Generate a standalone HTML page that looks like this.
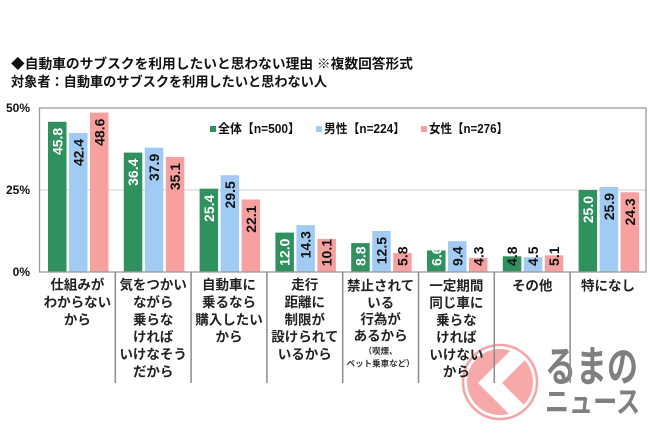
<!DOCTYPE html>
<html><head><meta charset="utf-8"><style>
html,body{margin:0;padding:0;background:#fff;}
svg{display:block;}
text{font-family:"Liberation Sans","Noto Sans CJK JP",sans-serif;}
.t{font-size:13.5px;font-weight:bold;fill:#111;}
.c{font-size:13.5px;font-weight:bold;fill:#222;text-anchor:middle;}
.s{font-size:8.5px;font-weight:bold;fill:#333;text-anchor:middle;}
.v{font-size:14px;font-weight:bold;text-anchor:end;}
.y{font-size:12px;font-weight:bold;fill:#111;text-anchor:end;}
.l{font-size:12.5px;font-weight:bold;fill:#111;}
</style></head><body>
<svg width="650" height="433" viewBox="0 0 650 433" xmlns="http://www.w3.org/2000/svg">
<rect width="650" height="433" fill="#fff"/>
<!-- titles -->
<text class="t" x="11" y="64" dominant-baseline="central" textLength="402" lengthAdjust="spacingAndGlyphs">◆自動車のサブスクを利用したいと思わない理由 ※複数回答形式</text>
<text class="t" x="11" y="82" dominant-baseline="central" textLength="316" lengthAdjust="spacingAndGlyphs">対象者：自動車のサブスクを利用したいと思わない人</text>

<!-- y labels -->
<text class="y" x="30" y="108" dominant-baseline="central">50%</text>
<text class="y" x="30" y="190" dominant-baseline="central">25%</text>
<text class="y" x="30" y="272" dominant-baseline="central">0%</text>

<!-- grid -->
<line x1="39.5" y1="190" x2="646" y2="190" stroke="#d9d9d9" stroke-width="1.2"/>

<!-- bars -->
<g>
<rect x="48" y="121.8" width="18.5" height="150.2" fill="#2f915e"/>
<rect x="69" y="132.9" width="18.5" height="139.1" fill="#a2cbf4"/>
<rect x="90" y="112.6" width="18.5" height="159.4" fill="#f6a0a0"/>

<rect x="123.8" y="152.6" width="18.5" height="119.4" fill="#2f915e"/>
<rect x="144.8" y="147.7" width="18.5" height="124.3" fill="#a2cbf4"/>
<rect x="165.8" y="156.9" width="18.5" height="115.1" fill="#f6a0a0"/>

<rect x="199.6" y="188.7" width="18.5" height="83.3" fill="#2f915e"/>
<rect x="220.6" y="175.2" width="18.5" height="96.8" fill="#a2cbf4"/>
<rect x="241.6" y="199.5" width="18.5" height="72.5" fill="#f6a0a0"/>

<rect x="275.4" y="232.6" width="18.5" height="39.4" fill="#2f915e"/>
<rect x="296.4" y="225.1" width="18.5" height="46.9" fill="#a2cbf4"/>
<rect x="317.4" y="238.9" width="18.5" height="33.1" fill="#f6a0a0"/>

<rect x="351.2" y="243.1" width="18.5" height="28.9" fill="#2f915e"/>
<rect x="372.2" y="231" width="18.5" height="41" fill="#a2cbf4"/>
<rect x="393.2" y="253" width="18.5" height="19" fill="#f6a0a0"/>

<rect x="427" y="250.4" width="18.5" height="21.6" fill="#2f915e"/>
<rect x="448" y="241.2" width="18.5" height="30.8" fill="#a2cbf4"/>
<rect x="469" y="257.9" width="18.5" height="14.1" fill="#f6a0a0"/>

<rect x="502.8" y="256.3" width="18.5" height="15.7" fill="#2f915e"/>
<rect x="523.8" y="257.2" width="18.5" height="14.8" fill="#a2cbf4"/>
<rect x="544.8" y="255.3" width="18.5" height="16.7" fill="#f6a0a0"/>

<rect x="578.6" y="190" width="18.5" height="82" fill="#2f915e"/>
<rect x="599.6" y="187" width="18.5" height="85" fill="#a2cbf4"/>
<rect x="620.6" y="192.3" width="18.5" height="79.7" fill="#f6a0a0"/>
</g>

<!-- value labels -->
<g dominant-baseline="central">
<text class="v" fill="#fff" transform="translate(57.25,127.8) rotate(-90)">45.8</text>
<text class="v" fill="#111" transform="translate(78.25,138.9) rotate(-90)">42.4</text>
<text class="v" fill="#111" transform="translate(99.25,118.6) rotate(-90)">48.6</text>

<text class="v" fill="#fff" transform="translate(133.05,158.6) rotate(-90)">36.4</text>
<text class="v" fill="#111" transform="translate(154.05,153.7) rotate(-90)">37.9</text>
<text class="v" fill="#111" transform="translate(175.05,162.9) rotate(-90)">35.1</text>

<text class="v" fill="#fff" transform="translate(208.85,194.7) rotate(-90)">25.4</text>
<text class="v" fill="#111" transform="translate(229.85,181.2) rotate(-90)">29.5</text>
<text class="v" fill="#111" transform="translate(250.85,205.5) rotate(-90)">22.1</text>

<text class="v" fill="#fff" transform="translate(284.65,238.6) rotate(-90)">12.0</text>
<text class="v" fill="#111" transform="translate(305.65,231.1) rotate(-90)">14.3</text>
<text class="v" fill="#111" transform="translate(326.65,239) rotate(-90)">10.1</text>

<text class="v" fill="#fff" transform="translate(360.45,246.5) rotate(-90)">8.8</text>
<text class="v" fill="#111" transform="translate(381.45,237) rotate(-90)">12.5</text>
<text class="v" fill="#111" transform="translate(402.45,246.5) rotate(-90)">5.8</text>

<text class="v" fill="#fff" transform="translate(436.25,246.5) rotate(-90)">6.6</text>
<text class="v" fill="#111" transform="translate(457.25,246.5) rotate(-90)">9.4</text>
<text class="v" fill="#111" transform="translate(478.25,246.5) rotate(-90)">4.3</text>

<text class="v" fill="#111" transform="translate(512.05,246.5) rotate(-90)">4.8</text>
<text class="v" fill="#111" transform="translate(533.05,246.5) rotate(-90)">4.5</text>
<text class="v" fill="#111" transform="translate(554.05,246.5) rotate(-90)">5.1</text>

<text class="v" fill="#fff" transform="translate(587.85,196) rotate(-90)">25.0</text>
<text class="v" fill="#111" transform="translate(608.85,193) rotate(-90)">25.9</text>
<text class="v" fill="#111" transform="translate(629.85,198.3) rotate(-90)">24.3</text>
</g>

<!-- plot border -->
<rect x="39.5" y="108" width="606.5" height="164" fill="none" stroke="#9a9a9a" stroke-width="1.3"/>

<!-- legend -->
<rect x="210" y="126" width="6" height="6" fill="#2f915e"/>
<text class="l" x="218" y="129" dominant-baseline="central" textLength="82" lengthAdjust="spacingAndGlyphs">全体【n=500】</text>
<rect x="316" y="126" width="6" height="6" fill="#a2cbf4"/>
<text class="l" x="324" y="129" dominant-baseline="central" textLength="81" lengthAdjust="spacingAndGlyphs">男性【n=224】</text>
<rect x="421" y="126" width="6" height="6" fill="#f6a0a0"/>
<text class="l" x="429" y="129" dominant-baseline="central" textLength="79" lengthAdjust="spacingAndGlyphs">女性【n=276】</text>

<!-- logo (watermark) -->
<defs><clipPath id="cc"><circle cx="500" cy="382" r="33"/></clipPath></defs>
<g opacity="0.9">
<circle cx="500" cy="382" r="37" fill="none" stroke="#f59d9d" stroke-width="2.6"/>
<circle cx="500" cy="382" r="33" fill="#f79f9f"/>
<polyline points="530,343 490,383 530,423" fill="none" stroke="#fff" stroke-width="17" stroke-linejoin="miter" clip-path="url(#cc)"/>
</g>
<text x="545" y="367" dominant-baseline="central" font-size="42" font-weight="bold" fill="#7f7f7f" textLength="93" lengthAdjust="spacingAndGlyphs">るまの</text>
<text x="545" y="403" dominant-baseline="central" font-size="30" font-weight="bold" fill="#7f7f7f" textLength="95" lengthAdjust="spacingAndGlyphs">ニュース</text>

<!-- separators -->
<g stroke="#8c8c8c" stroke-width="1.5">
<line x1="115.3" y1="272" x2="115.3" y2="383"/>
<line x1="191.1" y1="272" x2="191.1" y2="383"/>
<line x1="266.9" y1="272" x2="266.9" y2="383"/>
<line x1="342.7" y1="272" x2="342.7" y2="383"/>
<line x1="418.5" y1="272" x2="418.5" y2="383"/>
<line x1="494.3" y1="272" x2="494.3" y2="383"/>
<line x1="570.1" y1="272" x2="570.1" y2="383"/>
</g>

<!-- category labels -->
<g dominant-baseline="central">
<text class="c" x="77.4" y="285">仕組みが</text>
<text class="c" x="77.4" y="302.5">わからない</text>
<text class="c" x="77.4" y="320">から</text>

<text class="c" x="153.2" y="285">気をつかい</text>
<text class="c" x="153.2" y="302.4">ながら</text>
<text class="c" x="153.2" y="319.8">乗らな</text>
<text class="c" x="153.2" y="337.2">ければ</text>
<text class="c" x="153.2" y="354.6">いけなそう</text>
<text class="c" x="153.2" y="372">だから</text>

<text class="c" x="229" y="285">自動車に</text>
<text class="c" x="229" y="302.4">乗るなら</text>
<text class="c" x="229" y="319.8">購入したい</text>
<text class="c" x="229" y="337.2">から</text>

<text class="c" x="304.8" y="285">走行</text>
<text class="c" x="304.8" y="302.4">距離に</text>
<text class="c" x="304.8" y="319.8">制限が</text>
<text class="c" x="304.8" y="337.2">設けられて</text>
<text class="c" x="304.8" y="354.6">いるから</text>

<text class="c" x="380.6" y="286">禁止されて</text>
<text class="c" x="380.6" y="303">いる</text>
<text class="c" x="380.6" y="319.5">行為が</text>
<text class="c" x="380.6" y="336">あるから</text>
<text class="s" x="380.6" y="351">（喫煙、</text>
<text class="s" x="380.6" y="363.5">ペット乗車など）</text>

<text class="c" x="456.4" y="286">一定期間</text>
<text class="c" x="456.4" y="303.2">同じ車に</text>
<text class="c" x="456.4" y="320.4">乗らな</text>
<text class="c" x="456.4" y="337.6">ければ</text>
<text class="c" x="456.4" y="354.8">いけない</text>
<text class="c" x="456.4" y="372">から</text>

<text class="c" x="532.2" y="286">その他</text>
<text class="c" x="608" y="286">特になし</text>
</g>
</svg>
</body></html>
